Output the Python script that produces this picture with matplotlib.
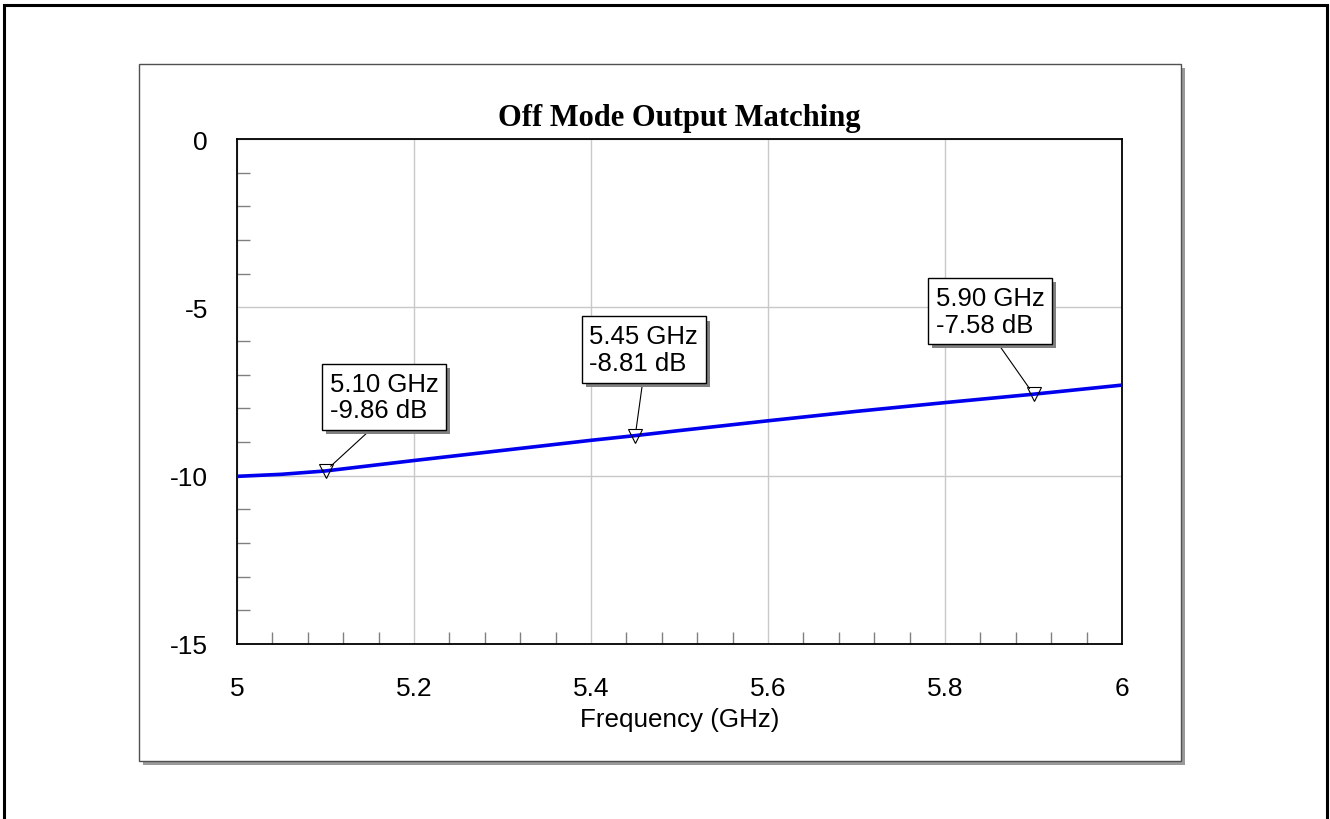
import matplotlib
matplotlib.use("Agg")
import matplotlib.pyplot as plt
from matplotlib.patches import Rectangle
from matplotlib.ticker import MultipleLocator
import matplotlib.patheffects as pe

# ---- data ----
freq_ghz = [5.00, 5.05, 5.10, 5.20, 5.30, 5.40, 5.45, 5.50, 5.60, 5.70, 5.80, 5.90, 6.00]
s_db = [-10.02, -9.96, -9.86, -9.55, -9.25, -8.95, -8.81, -8.66, -8.37, -8.09, -7.83, -7.58, -7.31]
marker_freq = [5.10, 5.45, 5.90]
marker_db = [-9.86, -8.81, -7.58]
marker_labels = ["5.10 GHz\n-9.86 dB", "5.45 GHz\n-8.81 dB", "5.90 GHz\n-7.58 dB"]
title = "Off Mode Output Matching"
xlabel = "Frequency (GHz)"
x_ticks = [5, 5.2, 5.4, 5.6, 5.8, 6]
x_ticklabels = ["5", "5.2", "5.4", "5.6", "5.8", "6"]
y_ticks = [0, -5, -10, -15]
y_ticklabels = ["0", "-5", "-10", "-15"]

W, H = 1330, 820
fig = plt.figure(figsize=(W / 100, H / 100), dpi=100)
plt.rcParams['font.family'] = ['Liberation Sans', 'DejaVu Sans']

def fr(x0, y0, x1, y1):
    # pixel box (top-left origin) -> figure fraction rect
    return (x0 / W, 1 - y1 / H, (x1 - x0) / W, (y1 - y0) / H)

# outer border
x, y, w, h = fr(4, 6, 1327, 840)
fig.patches.append(Rectangle((x, y), w, h, transform=fig.transFigure,
                             fill=False, edgecolor='black', linewidth=2.2, zorder=0))
# panel shadow
x, y, w, h = fr(143, 69, 1185, 766)
fig.patches.append(Rectangle((x, y), w, h, transform=fig.transFigure,
                             facecolor='#9a9a9a', edgecolor='none', zorder=0))
# panel
x, y, w, h = fr(139, 65, 1181, 762)
fig.patches.append(Rectangle((x, y), w, h, transform=fig.transFigure,
                             facecolor='white', edgecolor='#505050', linewidth=1.0, zorder=0))

ax = fig.add_axes(fr(237, 140, 1122, 645))
ax.set_zorder(2)
ax.set_facecolor('white')

ax.plot(freq_ghz, s_db, color='#0000ee', linewidth=2.6, zorder=3)
ax.plot(marker_freq, marker_db, linestyle='none', marker='v', markersize=10,
        markerfacecolor='none', markeredgecolor='black', markeredgewidth=0.8, zorder=4)

ax.set_xlim(5, 6)
ax.set_ylim(-15, 0)
ax.set_xticks(x_ticks)
ax.set_xticklabels(x_ticklabels)
ax.set_yticks(y_ticks)
ax.set_yticklabels(y_ticklabels)
ax.xaxis.set_minor_locator(MultipleLocator(0.04))
ax.yaxis.set_minor_locator(MultipleLocator(1))
ax.tick_params(axis='x', which='major', length=0, labelsize=19, pad=23)
ax.tick_params(axis='y', which='major', length=0, labelsize=19, pad=21)
ax.tick_params(axis='both', which='minor', direction='in', length=9, width=1,
               color='#808080', top=False, right=False)
ax.grid(True, which='major', color='#c8c8c8', linewidth=1.0)
ax.set_axisbelow(True)
for s in ax.spines.values():
    s.set_linewidth(1.3)
    s.set_color('black')

ax.set_xlabel(xlabel, fontsize=18.7, labelpad=5)
ax.set_title(title, fontsize=22, fontweight='bold', family=['Liberation Serif', 'DejaVu Serif'], pad=10)

# marker annotations: (text offset px, relpos on box)
offsets = [(4, 74), (-46, 86), (-98, 83)]
relpos = [(0.45, 0.0), (0.5, 0.0), (0.53, 0.0)]
for fx, fy, lab, off, rp in zip(marker_freq, marker_db, marker_labels, offsets, relpos):
    t = ax.annotate(lab, xy=(fx, fy), xytext=off, textcoords='offset pixels',
                    ha='left', va='center', fontsize=18.5, linespacing=1.15,
                    bbox=dict(boxstyle='square,pad=0.3', facecolor='white',
                              edgecolor='black', linewidth=1.0),
                    arrowprops=dict(arrowstyle='-', color='black', linewidth=0.8,
                                    relpos=rp, shrinkA=0, shrinkB=5),
                    zorder=5)
    t.get_bbox_patch().set_path_effects([
        pe.SimplePatchShadow(offset=(3, -3), shadow_rgbFace='#808080', alpha=1.0),
        pe.Normal()])

fig.savefig("out.png", dpi=100)
